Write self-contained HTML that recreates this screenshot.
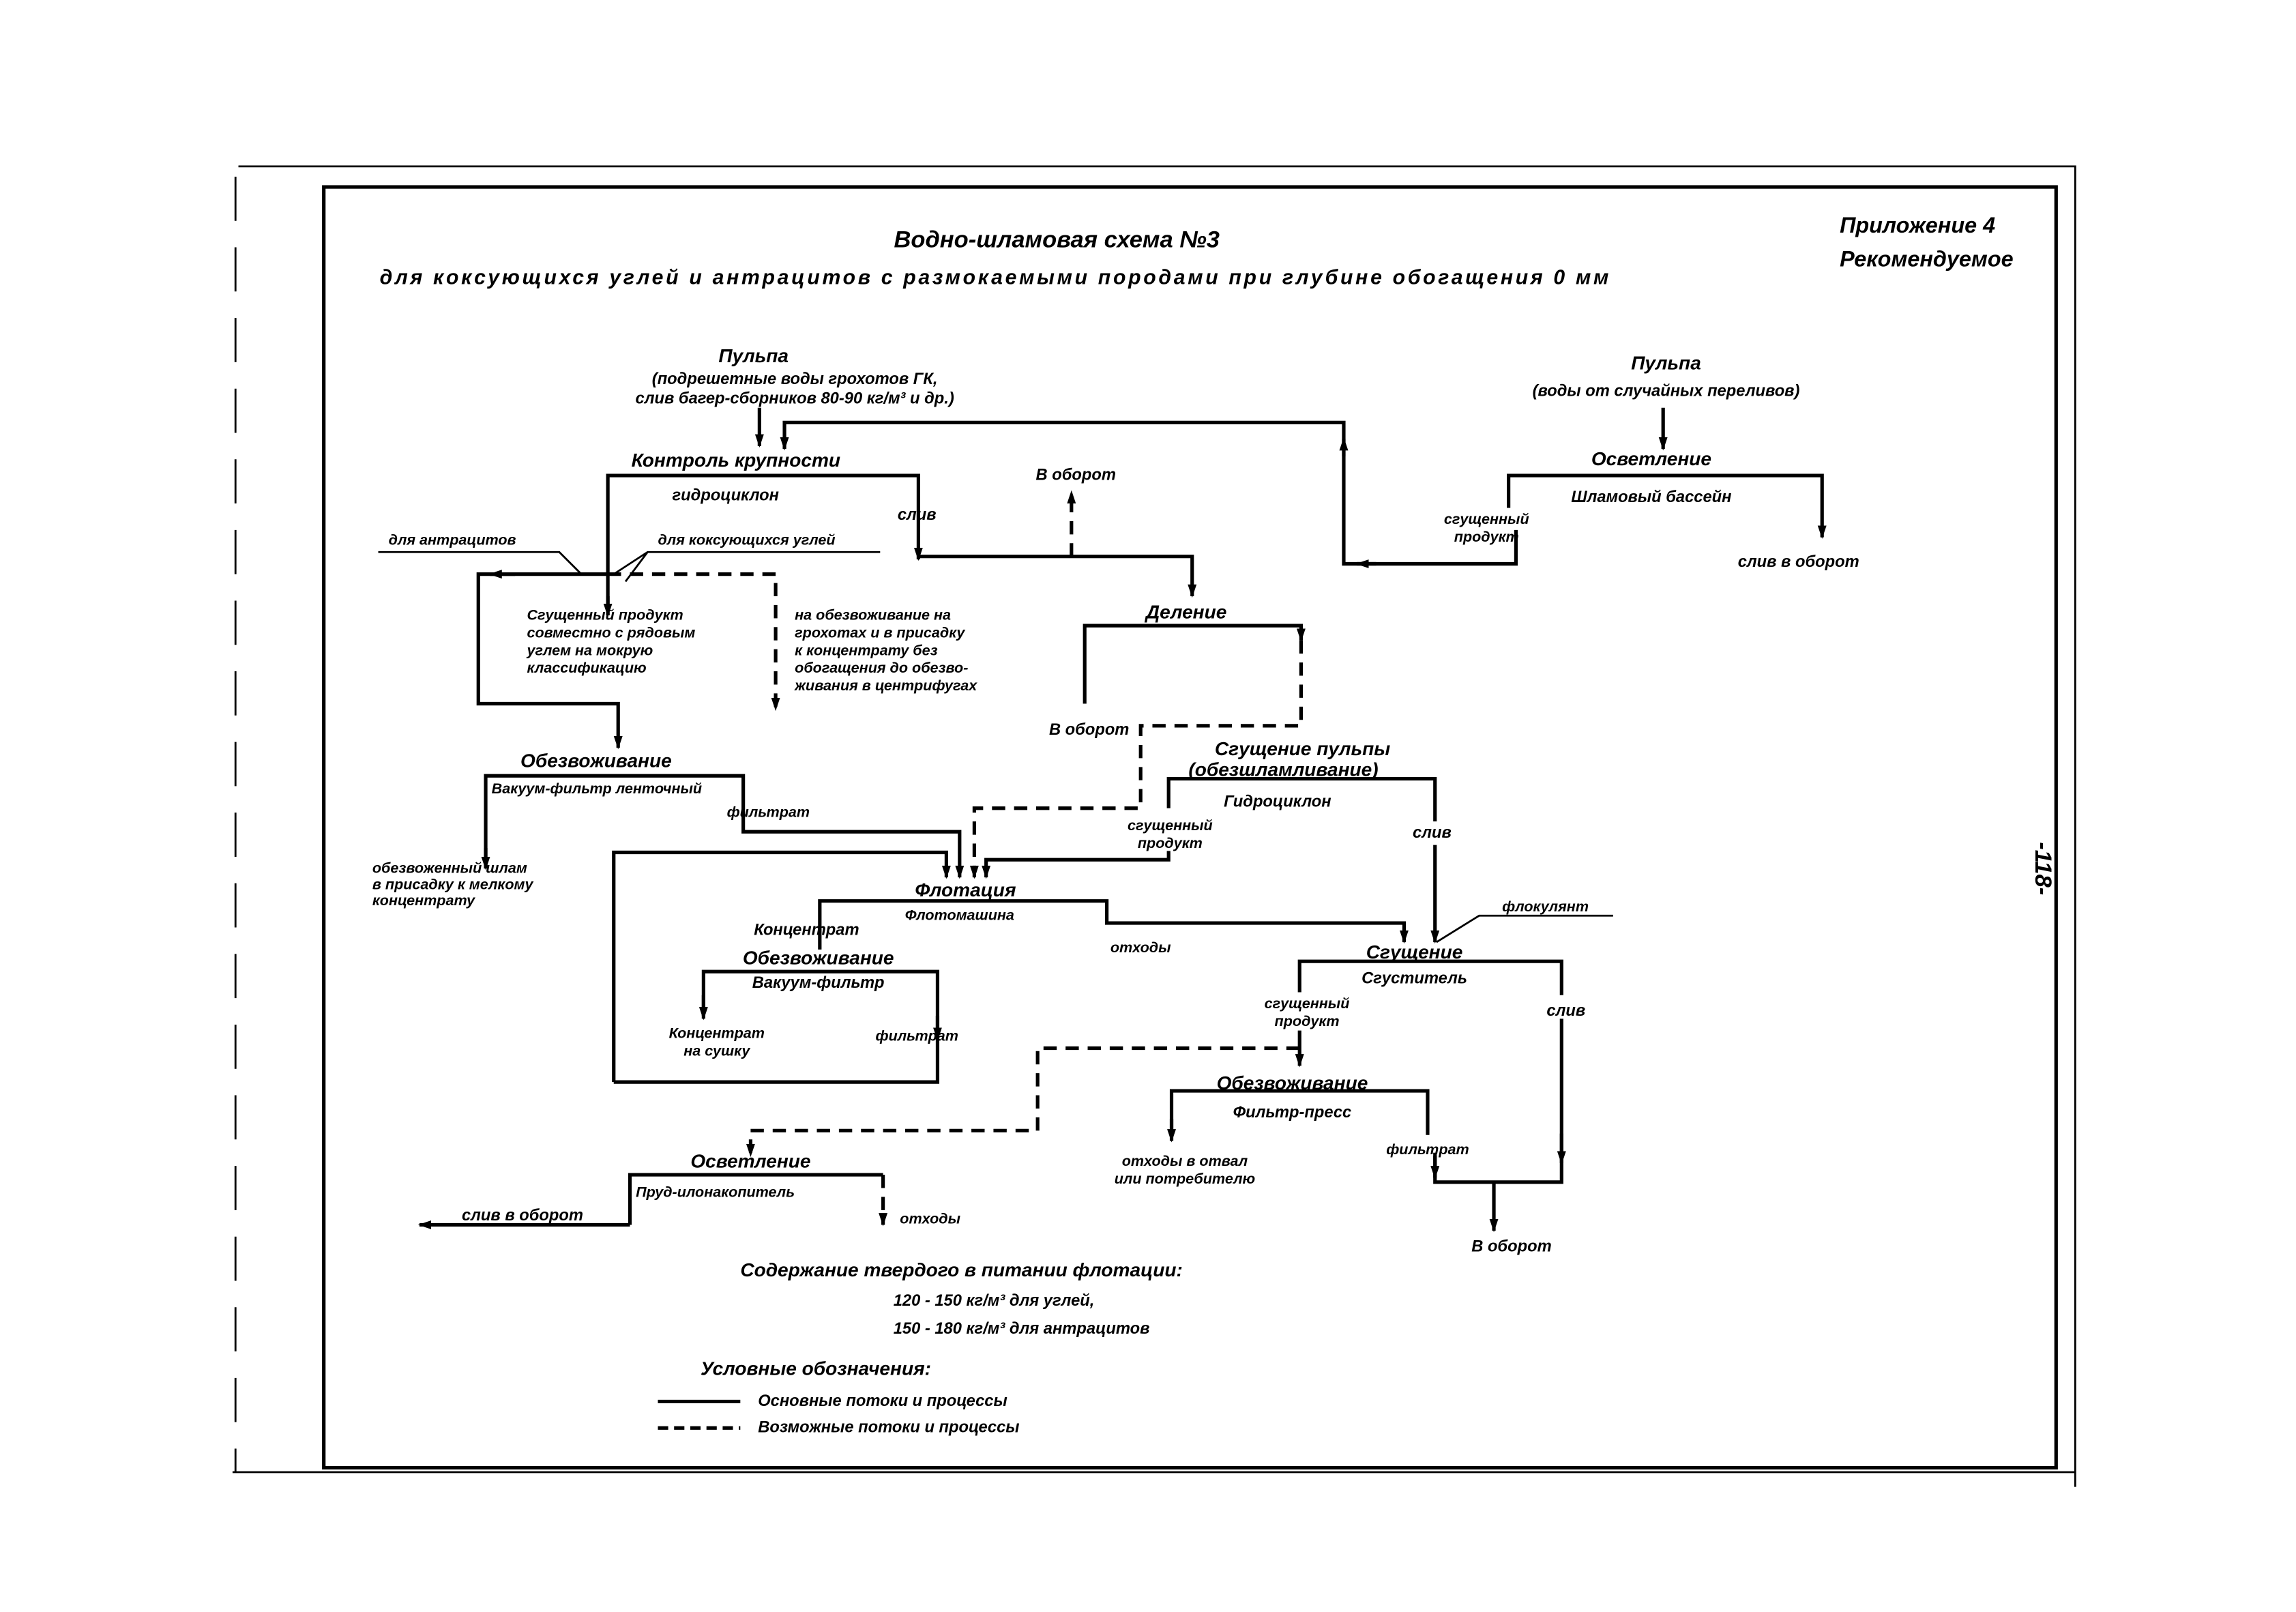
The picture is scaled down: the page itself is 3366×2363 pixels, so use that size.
<!DOCTYPE html>
<html><head><meta charset="utf-8"><style>
html,body{margin:0;padding:0;background:#fff;}
svg{display:block;}
text{font-family:"Liberation Sans","DejaVu Sans",sans-serif;font-style:italic;font-weight:bold;fill:#000;}
.m{text-anchor:middle;}
path{fill:none;stroke:#000;stroke-width:2.4;}
.d{stroke-dasharray:9 6;}
.t{stroke-width:1.3;}
</style></head><body>
<svg width="3366" height="2363" viewBox="0 0 1560 1095" preserveAspectRatio="none" xmlns="http://www.w3.org/2000/svg">
<defs><marker id="a" markerWidth="10" markerHeight="10" refX="8" refY="5" orient="auto" markerUnits="userSpaceOnUse"><path d="M0,2 L9,5 L0,8 z" style="fill:#000;stroke:none"/></marker></defs>
<rect x="0" y="0" width="1560" height="1095" fill="#fff"/>
<!-- frames -->
<path class="t" d="M162 113 H1410 V1010"/>
<path class="t" d="M158 1000 H1410"/>
<path class="t" d="M160 120 V1000" style="stroke-dasharray:30 18"/>
<rect x="220" y="127" width="1177" height="870" style="fill:none;stroke:#000;stroke-width:2.4"/>

<text class="m" x="718" y="168" font-size="16">Водно-шламовая схема №3</text>
<text x="258" y="193" font-size="14" textLength="835">для коксующихся углей и антрацитов с размокаемыми породами при глубине обогащения 0 мм</text>
<text x="1250" y="158" font-size="15">Приложение 4</text>
<text x="1250" y="181" font-size="15">Рекомендуемое</text>
<text x="1383" y="590" font-size="16" transform="rotate(90 1383 590)" class="m">-118-</text>

<!-- left pulpa -->
<text class="m" x="512" y="246" font-size="13">Пульпа</text>
<text class="m" x="540" y="261" font-size="11">(подрешетные воды грохотов ГК,</text>
<text class="m" x="540" y="274" font-size="11">слив багер-сборников 80-90 кг/м³ и др.)</text>
<path d="M516 277 V303" marker-end="url(#a)"/>
<path d="M1030 360 V383 H913 V287 H533 V305" marker-end="url(#a)"/>
<path d="M913 310 V298" marker-end="url(#a)"/>
<path d="M935 383 H922" marker-end="url(#a)"/>

<text class="m" x="500" y="317" font-size="13">Контроль крупности</text>
<path d="M413 418 V323 H624 V380" marker-end="url(#a)"/>
<path d="M413 405 V418" marker-end="url(#a)"/>
<text class="m" x="493" y="340" font-size="11">гидроциклон</text>
<text class="m" x="623" y="353" font-size="11">слив</text>
<path d="M624 378 H810 V405" marker-end="url(#a)"/>
<text class="m" x="731" y="326" font-size="11">В оборот</text>
<path class="d" d="M728 378 V334" marker-end="url(#a)"/>

<text x="264" y="370" font-size="10">для антрацитов</text>
<path class="t" d="M257 375 H380 L395 390"/>
<text x="447" y="370" font-size="10">для коксующихся углей</text>
<path class="t" d="M598 375 H440 L417 390 M440 375 L425 395"/>
<path d="M413 390 H325 V478 H420 V508" marker-end="url(#a)"/>
<path d="M350 390 H333" marker-end="url(#a)"/>
<path class="d" d="M413 390 H527 V482" marker-end="url(#a)"/>
<text x="358" y="421" font-size="10">Сгущенный продукт</text>
<text x="358" y="433" font-size="10">совместно с рядовым</text>
<text x="358" y="445" font-size="10">углем на мокрую</text>
<text x="358" y="457" font-size="10">классификацию</text>
<text x="540" y="421" font-size="10">на обезвоживание на</text>
<text x="540" y="433" font-size="10">грохотах и в присадку</text>
<text x="540" y="445" font-size="10">к концентрату без</text>
<text x="540" y="457" font-size="10">обогащения до обезво-</text>
<text x="540" y="469" font-size="10">живания в центрифугах</text>

<!-- Деление -->
<text class="m" x="806" y="420" font-size="13">Деление</text>
<path d="M737 478 V425 H884 V435" marker-end="url(#a)"/>
<path class="d" d="M884 435 V493 H775 V549 H662 V596" marker-end="url(#a)"/>
<text class="m" x="740" y="499" font-size="11">В оборот</text>

<text class="m" x="885" y="513" font-size="13">Сгущение пульпы</text>
<text class="m" x="872" y="527" font-size="13">(обезшламливание)</text>
<path d="M794 549 V529 H975 V558"/>
<path d="M975 574 V640" marker-end="url(#a)"/>
<text class="m" x="868" y="548" font-size="11">Гидроциклон</text>
<text class="m" x="973" y="569" font-size="11">слив</text>
<text class="m" x="795" y="564" font-size="10">сгущенный</text>
<text class="m" x="795" y="576" font-size="10">продукт</text>
<path d="M794 578 V584 H670 V596" marker-end="url(#a)"/>

<!-- left Обезвоживание -->
<text class="m" x="405" y="521" font-size="13">Обезвоживание</text>
<path d="M330 588 V527 H505 V565 H652 V596" marker-end="url(#a)"/>
<path d="M330 576 V590" marker-end="url(#a)"/>
<text x="334" y="539" font-size="10">Вакуум-фильтр ленточный</text>
<text class="m" x="522" y="555" font-size="10">фильтрат</text>
<text x="253" y="593" font-size="10">обезвоженный шлам</text>
<text x="253" y="604" font-size="10">в присадку к мелкому</text>
<text x="253" y="615" font-size="10">концентрату</text>

<!-- Флотация -->
<path d="M417 735 V579 H643 V596" marker-end="url(#a)"/>
<text class="m" x="656" y="609" font-size="13">Флотация</text>
<path d="M557 645 V612 H752 V627 H954 V640" marker-end="url(#a)"/>
<text class="m" x="652" y="625" font-size="10">Флотомашина</text>
<text class="m" x="548" y="635" font-size="11">Концентрат</text>
<text class="m" x="775" y="647" font-size="10">отходы</text>

<text class="m" x="556" y="655" font-size="13">Обезвоживание</text>
<path d="M478 690 V660 H637 V735 H417"/>
<path d="M478 676 V692" marker-end="url(#a)"/>
<path d="M637 690 V706" marker-end="url(#a)"/>
<text class="m" x="556" y="671" font-size="11">Вакуум-фильтр</text>
<text class="m" x="487" y="705" font-size="10">Концентрат</text>
<text class="m" x="487" y="717" font-size="10">на сушку</text>
<text class="m" x="623" y="707" font-size="10">фильтрат</text>

<!-- Сгущение -->
<text class="m" x="961" y="651" font-size="13">Сгущение</text>
<text class="m" x="1050" y="619" font-size="10">флокулянт</text>
<path class="t" d="M1096 622 H1005 L976 640"/>
<path d="M883 674 V653 H1061 V676"/>
<path d="M1061 692 V803 H975 V783"/>
<path d="M1061 770 V790" marker-end="url(#a)"/>
<path d="M1015 803 V836" marker-end="url(#a)"/>
<text class="m" x="961" y="668" font-size="11">Сгуститель</text>
<text class="m" x="1064" y="690" font-size="11">слив</text>
<text class="m" x="888" y="685" font-size="10">сгущенный</text>
<text class="m" x="888" y="697" font-size="10">продукт</text>
<path d="M883 700 V724" marker-end="url(#a)"/>
<path class="d" d="M883 712 H705 V768 H510 V785" marker-end="url(#a)"/>

<text class="m" x="878" y="740" font-size="13">Обезвоживание</text>
<path d="M796 772 V741 H970 V771"/>
<path d="M796 760 V775" marker-end="url(#a)"/>
<path d="M975 785 V800" marker-end="url(#a)"/>
<text class="m" x="878" y="759" font-size="11">Фильтр-пресс</text>
<text class="m" x="970" y="784" font-size="10">фильтрат</text>
<text class="m" x="805" y="792" font-size="10">отходы в отвал</text>
<text class="m" x="805" y="804" font-size="10">или потребителю</text>
<text class="m" x="1027" y="850" font-size="11">В оборот</text>

<!-- Осветление bottom -->
<text class="m" x="510" y="793" font-size="13">Осветление</text>
<path d="M428 832 V798 H600"/>
<path class="d" d="M600 798 V832" marker-end="url(#a)"/>
<path d="M428 832 H285" marker-end="url(#a)"/>
<text x="432" y="813" font-size="10">Пруд-илонакопитель</text>
<text class="m" x="355" y="829" font-size="11">слив в оборот</text>
<text class="m" x="632" y="831" font-size="10">отходы</text>

<text x="503" y="867" font-size="13">Содержание твердого в питании флотации:</text>
<text x="607" y="887" font-size="11">120 - 150 кг/м³ для углей,</text>
<text x="607" y="906" font-size="11">150 - 180 кг/м³ для антрацитов</text>
<text x="476" y="934" font-size="13">Условные обозначения:</text>
<path d="M447 952 H503"/>
<text x="515" y="955" font-size="11">Основные потоки и процессы</text>
<path class="d" d="M447 970 H503" style="stroke-dasharray:7 4"/>
<text x="515" y="973" font-size="11">Возможные потоки и процессы</text>

<!-- right block -->
<text class="m" x="1132" y="251" font-size="13">Пульпа</text>
<text class="m" x="1132" y="269" font-size="11">(воды от случайных переливов)</text>
<path d="M1130 277 V305" marker-end="url(#a)"/>
<text class="m" x="1122" y="316" font-size="13">Осветление</text>
<path d="M1025 345 V323 H1238 V365" marker-end="url(#a)"/>
<text class="m" x="1122" y="341" font-size="11">Шламовый бассейн</text>
<text class="m" x="1010" y="356" font-size="10">сгущенный</text>
<text class="m" x="1010" y="368" font-size="10">продукт</text>
<text class="m" x="1222" y="385" font-size="11">слив в оборот</text>
</svg>
</body></html>
